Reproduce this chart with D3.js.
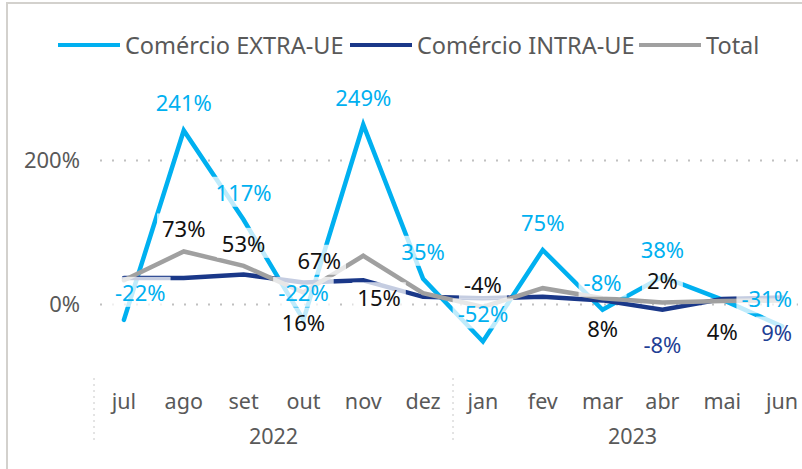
<!DOCTYPE html>
<html>
<head>
<meta charset="utf-8">
<script src="https://cdn.jsdelivr.net/npm/d3@7"></script>
<style>
  body { margin: 0; background: #fff; }
  svg { display: block; font-family: "Noto Sans", "Open Sans", sans-serif; }
</style>
</head>
<body>
<svg id="chart" width="802" height="469"></svg>
<script>
var months = ["jul", "ago", "set", "out", "nov", "dez", "jan", "fev", "mar", "abr", "mai", "jun"];
var years = ["2022", "2022", "2022", "2022", "2022", "2022", "2023", "2023", "2023", "2023", "2023", "2023"];

var extra = [-22, 241, 117, -22, 249, 35, -52, 75, -8, 38, 6, -31];
var intra = [36, 36, 41, 30, 33, 10, 8, 10, 5, -8, 7, 9];
var total = [33, 73, 53, 16, 67, 15, -4, 22, 8, 2, 4, 5];

// where each data label sits: a = above, b = below, l = left, null = not shown
var extraLabelPos = ["a", "a", "a", "a", "a", "a", "a", "a", "a", "a", null, "a"];
var intraLabelPos = [null, null, null, null, null, null, null, null, null, "b", null, "b"];
var totalLabelPos = [null, "a", "a", "b", "l", "l", "a", null, "b", "a", "b", null];

var yTicks = [0, 200];

var series = [
    { name: "Comércio EXTRA-UE", values: extra, pos: extraLabelPos, color: "#00b0f0", labelColor: "#00b0f0", up: 28, down: 30 },
    { name: "Comércio INTRA-UE", values: intra, pos: intraLabelPos, color: "#1a3889", labelColor: "#1f3f95", up: 26, down: 34 },
    { name: "Total", values: total, pos: totalLabelPos, color: "#a0a0a0", labelColor: "#111", up: 23, down: 30 }
];

var svg = d3.select("#chart");

// outer chart border
svg.append("rect")
    .attr("x", 7).attr("y", 3)
    .attr("width", 820).attr("height", 500)
    .attr("fill", "none")
    .attr("stroke", "#d3d1cd")
    .attr("stroke-width", 2);

var x = d3.scaleBand()
    .domain(months)
    .range([94, 812])
    .padding(0);

var y = d3.scaleLinear()
    .domain([-100, 300])
    .range([376, 88]);

function cx(i) { return x(months[i]) + x.bandwidth() / 2; }

// gridlines + y labels
var yAxis = d3.axisLeft(y)
    .tickValues(yTicks)
    .tickSize(-700)
    .tickPadding(20)
    .tickFormat(function(d) { return d + "%"; });

svg.append("g")
    .attr("transform", "translate(100,0)")
    .call(yAxis)
    .call(function(g) {
        g.select(".domain").remove();
        g.selectAll(".tick line")
            .attr("stroke", "#c0c0c0")
            .attr("stroke-width", 2)
            .attr("stroke-dasharray", "2,10");
        g.selectAll(".tick text")
            .attr("fill", "#595959")
            .attr("font-size", 22)
            .attr("font-family", "'Noto Sans', sans-serif");
    });

// month axis
svg.append("g")
    .attr("transform", "translate(0,400)")
    .call(d3.axisBottom(x).tickSize(0).tickPadding(0))
    .call(function(g) {
        g.select(".domain").remove();
        g.selectAll(".tick text")
            .attr("fill", "#595959")
            .attr("font-size", 21.5)
            .attr("font-family", "'Noto Sans', sans-serif")
            .attr("dy", null)
            .attr("dominant-baseline", "central");
    });

// year groups with separators
var yearGroups = d3.groups(months.map(function(m, i) { return { m: m, yr: years[i] }; }), function(d) { return d.yr; });
yearGroups.forEach(function(grp) {
    var x0 = x(grp[1][0].m);
    var x1 = x(grp[1][grp[1].length - 1].m) + x.bandwidth();
    svg.append("line")
        .attr("x1", x0).attr("x2", x0)
        .attr("y1", 378).attr("y2", 442)
        .attr("stroke", "#c8c8c8")
        .attr("stroke-dasharray", "2,4");
    svg.append("text")
        .attr("x", (x0 + x1) / 2)
        .attr("y", 435)
        .attr("text-anchor", "middle")
        .attr("dominant-baseline", "central")
        .attr("fill", "#595959")
        .attr("font-size", 21.5)
        .text(grp[0]);
});

// lines
var line = d3.line()
    .x(function(d, i) { return cx(i); })
    .y(function(d) { return y(d); });

series.forEach(function(s) {
    svg.append("path")
        .datum(s.values)
        .attr("d", line)
        .attr("fill", "none")
        .attr("stroke", s.color)
        .attr("stroke-width", 4.5)
        .attr("stroke-linecap", "round");
});

// data labels (white translucent boxes, on top of all lines)
var labelLayer = svg.append("g");
series.forEach(function(s) {
    s.values.forEach(function(v, i) {
        var p = s.pos[i];
        if (!p) return;
        var px = cx(i), py = y(v);
        var lx = px, ly = py;
        if (p === "a") ly = py - s.up;
        if (p === "b") ly = py + s.down;
        if (p === "l") { lx = px - 44; ly = py + 4; }
        var g = labelLayer.append("g");
        var t = g.append("text")
            .attr("text-anchor", "middle")
            .attr("dominant-baseline", "central")
            .attr("font-size", 22)
            .attr("fill", s.labelColor)
            .text(v + "%");
        var w = t.node().getComputedTextLength();
        // keep labels inside the plot area
        lx = Math.max(115 + w / 2, Math.min(792 - w / 2, lx));
        t.attr("x", lx).attr("y", ly);
        g.insert("rect", "text")
            .attr("x", lx - w / 2 - 5)
            .attr("y", ly - 15)
            .attr("width", w + 10)
            .attr("height", 30)
            .attr("fill", "#fff")
            .attr("fill-opacity", 0.75);
    });
});

// legend
var legendX = [58, 350, 639];
series.forEach(function(s, i) {
    var lg = svg.append("g").attr("transform", "translate(" + legendX[i] + ",45)");
    lg.append("line")
        .attr("x1", 0).attr("x2", 62)
        .attr("stroke", s.color)
        .attr("stroke-width", 4);
    lg.append("text")
        .attr("x", 67)
        .attr("dominant-baseline", "central")
        .attr("font-size", 23.5)
        .attr("fill", "#595959")
        .text(s.name);
});
</script>
</body>
</html>
